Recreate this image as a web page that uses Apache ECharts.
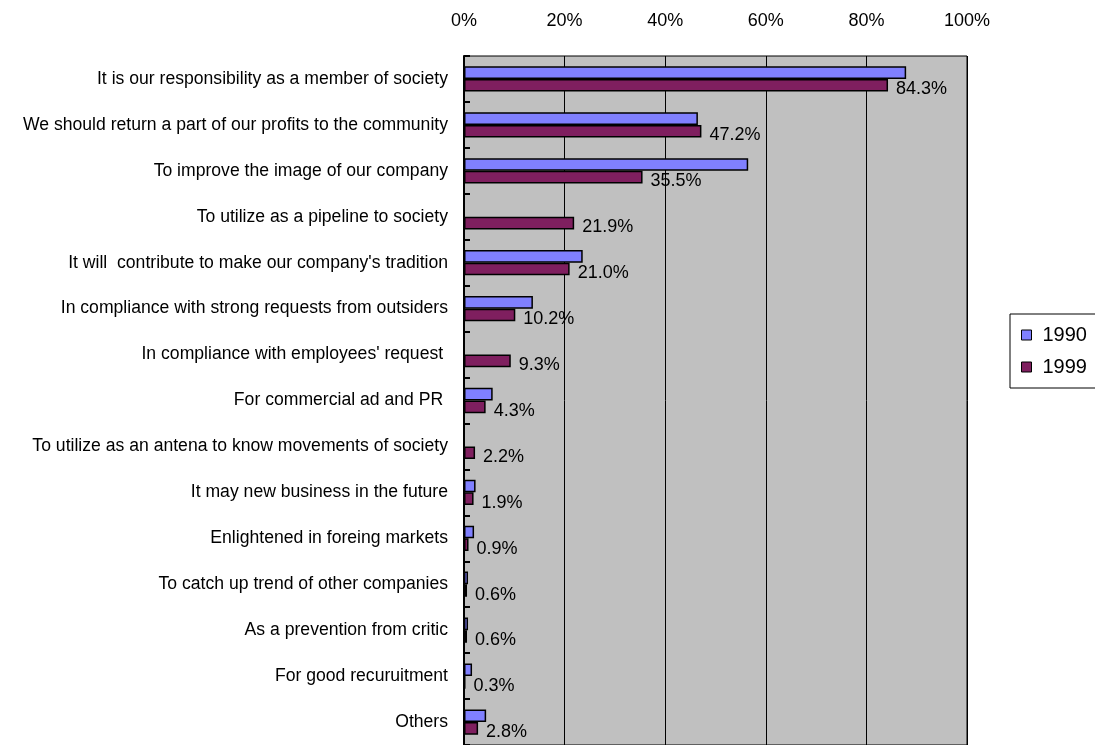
<!DOCTYPE html>
<html>
<head>
<meta charset="utf-8">
<script src="https://cdn.jsdelivr.net/npm/echarts@6/dist/echarts.min.js"></script>
<style>
  html, body { margin: 0; padding: 0; background: #ffffff; }
  #chart { width: 1095px; height: 745px; }
</style>
</head>
<body>
<div id="chart"></div>
<script>
// Reasons given by companies for social contribution activities (share of respondents, %)
const categories = [
  "It is our responsibility as a member of society",
  "We should return a part of our profits to the community",
  "To improve the image of our company",
  "To utilize as a pipeline to society",
  "It will  contribute to make our company's tradition",
  "In compliance with strong requests from outsiders",
  "In compliance with employees' request ",
  "For commercial ad and PR ",
  "To utilize as an antena to know movements of society",
  "It may new business in the future",
  "Enlightened in foreing markets",
  "To catch up trend of other companies",
  "As a prevention from critic",
  "For good recuruitment",
  "Others"
];
const values1990 = [87.9, 46.5, 56.5, null, 23.6, 13.7, null, 5.7, null, 2.3, 2.0, 0.8, 0.8, 1.6, 4.4];
const values1999 = [84.3, 47.2, 35.5, 21.9, 21.0, 10.2, 9.3, 4.3, 2.2, 1.9, 0.9, 0.6, 0.6, 0.3, 2.8];
const seriesNames = ["1990", "1999"];
const axisTicks = [0, 20, 40, 60, 80, 100];

const FONT = "'Liberation Sans', Arial, sans-serif";
const chart = echarts.init(document.getElementById('chart'), null, { renderer: 'canvas' });

chart.setOption({
  backgroundColor: '#ffffff',
  animation: false,
  textStyle: { fontFamily: FONT, color: '#000' },
  grid: { left: 464, right: 128, top: 56, height: 693, containLabel: false,
          show: true, backgroundColor: '#c0c0c0', borderColor: '#000', borderWidth: 1 },
  legend: {
    orient: 'vertical',
    left: 1010, top: 314,
    data: seriesNames,
    icon: 'rect',
    itemWidth: 10, itemHeight: 10,
    itemGap: 12,
    padding: [11, 40, 11, 11],
    backgroundColor: '#ffffff',
    borderColor: '#000', borderWidth: 1,
    borderRadius: 0,
    itemStyle: { borderColor: '#000', borderWidth: 1 },
    textStyle: { fontFamily: FONT, fontSize: 20, color: '#000', padding: [0, 0, 0, 6], lineHeight: 20 }
  },
  xAxis: {
    type: 'value',
    position: 'top',
    min: axisTicks[0], max: axisTicks[axisTicks.length - 1], interval: 20,
    axisLine: { show: false },
    axisTick: { show: false },
    splitLine: { show: true, lineStyle: { color: '#000', width: 1 } },
    axisLabel: { formatter: '{value}%', fontSize: 18, color: '#000', margin: 26, fontFamily: FONT }
  },
  yAxis: {
    type: 'category',
    inverse: true,
    data: categories,
    axisLine: { show: true, lineStyle: { color: '#000', width: 2 } },
    axisTick: { show: true, inside: true, length: 6, lineStyle: { color: '#000', width: 2 } },
    axisLabel: { fontSize: 17.6, color: '#000', margin: 16, fontFamily: FONT, padding: [6, 0, 0, 0] },
    splitLine: { show: false }
  },
  series: [
    {
      name: seriesNames[0], type: 'bar', data: values1990,
      barGap: '0%', barCategoryGap: '45%',
      itemStyle: { color: '#8080ff', borderColor: '#000', borderWidth: 1.5 }
    },
    {
      name: seriesNames[1], type: 'bar', data: values1999,
      barGap: '0%', barCategoryGap: '45%',
      itemStyle: { color: '#7f1f5f', borderColor: '#000', borderWidth: 1.5 },
      label: {
        show: true, position: 'right', distance: 8, offset: [0, 4],
        fontSize: 18, color: '#000', fontFamily: FONT,
        formatter: p => p.value.toFixed(1) + '%'
      }
    }
  ]
});
</script>
</body>
</html>
